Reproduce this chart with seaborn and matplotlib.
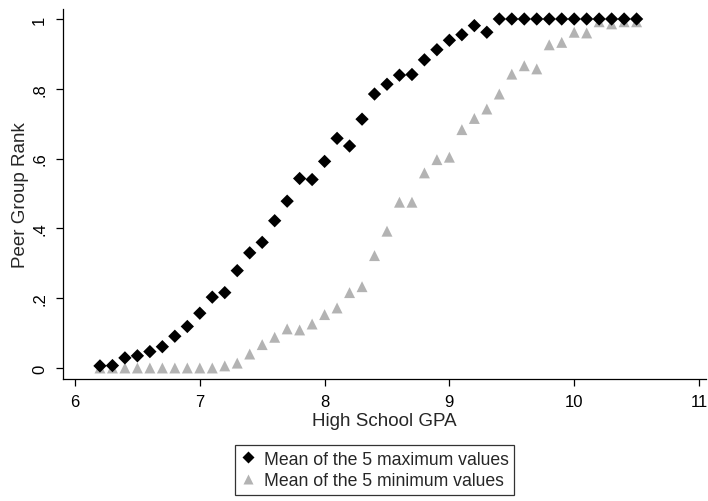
import numpy as np
import pandas as pd
import seaborn as sns
import matplotlib
matplotlib.use("Agg")
import matplotlib.pyplot as plt
from matplotlib.lines import Line2D

# High school GPA bins
gpa = [6.2, 6.3, 6.4, 6.5, 6.6, 6.7, 6.8, 6.9, 7.0, 7.1,
       7.2, 7.3, 7.4, 7.5, 7.6, 7.7, 7.8, 7.9, 8.0, 8.1,
       8.2, 8.3, 8.4, 8.5, 8.6, 8.7, 8.8, 8.9, 9.0, 9.1,
       9.2, 9.3, 9.4, 9.5, 9.6, 9.7, 9.8, 9.9, 10.0, 10.1,
       10.2, 10.3, 10.4, 10.5]

# Peer group rank: mean of the 5 maximum values
rank_max = [0.006, 0.007, 0.029, 0.035, 0.047, 0.061, 0.091, 0.119, 0.157, 0.203,
            0.216, 0.279, 0.330, 0.360, 0.422, 0.478, 0.543, 0.540, 0.592, 0.658,
            0.636, 0.713, 0.785, 0.813, 0.839, 0.841, 0.883, 0.912, 0.939, 0.955,
            0.981, 0.962, 1.0, 1.0, 1.0, 1.0, 1.0, 1.0, 1.0, 1.0,
            1.0, 1.0, 1.0, 1.0]

# Peer group rank: mean of the 5 minimum values
rank_min = [0.0, 0.0, 0.0, 0.0, 0.0, 0.0, 0.0, 0.0, 0.0, 0.0,
            0.006, 0.014, 0.040, 0.067, 0.088, 0.112, 0.109, 0.126, 0.153, 0.172,
            0.216, 0.233, 0.322, 0.392, 0.475, 0.475, 0.559, 0.597, 0.604, 0.683,
            0.715, 0.742, 0.785, 0.842, 0.866, 0.857, 0.926, 0.933, 0.962, 0.960,
            0.992, 0.986, 0.992, 0.992]

x_ticks = [6, 7, 8, 9, 10, 11]
y_ticks = [0, 0.2, 0.4, 0.6, 0.8, 1.0]
y_tick_labels = ["0", ".2", ".4", ".6", ".8", "1"]
legend_labels = ["Mean of the 5 maximum values", "Mean of the 5 minimum values"]

sns.set_style("white")
plt.rcParams["font.family"] = ["Liberation Sans", "DejaVu Sans"]

fig = plt.figure(figsize=(7.08, 5.02), dpi=100)
ax = fig.add_axes([63 / 708, 122 / 502, 643 / 708, 370 / 502])

df = pd.DataFrame({"gpa": gpa, "rmax": rank_max, "rmin": rank_min})
gray = "#b3b3b3"
sns.scatterplot(data=df, x="gpa", y="rmin", marker="^", s=62, color=gray,
                edgecolor="none", linewidth=0, ax=ax)
sns.scatterplot(data=df, x="gpa", y="rmax", marker="D", s=46, color="black",
                edgecolor="none", linewidth=0, ax=ax)

ax.set_xlim(6 - 12 / 124.8, 11 + 7 / 124.8)
ax.set_ylim(-11 / 349, 1 + 10 / 349)
ax.set_xticks(x_ticks)
ax.set_xticklabels([str(t) for t in x_ticks])
ax.set_yticks(y_ticks)
ax.set_yticklabels(y_tick_labels, rotation=90, va="center")

for side in ("top", "right"):
    ax.spines[side].set_visible(False)
for side in ("left", "bottom"):
    ax.spines[side].set_color("black")
    ax.spines[side].set_linewidth(0.9)

ax.tick_params(axis="both", which="major", direction="out", length=5, width=0.9,
               color="black", labelsize=12, labelcolor="black",
               bottom=True, left=True)
ax.tick_params(axis="x", pad=5.5)
ax.tick_params(axis="y", pad=6.5)
ax.set_xlabel("High School GPA", fontsize=13.5, labelpad=2.5)
ax.set_ylabel("Peer Group Rank", fontsize=13.5, labelpad=2)

handles = [
    Line2D([], [], linestyle="none", marker="D", markersize=6.5,
           markerfacecolor="black", markeredgecolor="none"),
    Line2D([], [], linestyle="none", marker="^", markersize=7,
           markerfacecolor=gray, markeredgecolor="none"),
]
leg = fig.legend(handles, legend_labels, loc="center",
                 bbox_to_anchor=(374.5 / 708, 1 - 471 / 502),
                 fontsize=12.7, frameon=True, fancybox=False, handlelength=0.8,
                 handletextpad=0.5, borderpad=0.3, labelspacing=0.28,
                 borderaxespad=0)
leg.get_frame().set_edgecolor("black")
leg.get_frame().set_linewidth(0.9)

fig.savefig("out.png", dpi=100, facecolor="white")
